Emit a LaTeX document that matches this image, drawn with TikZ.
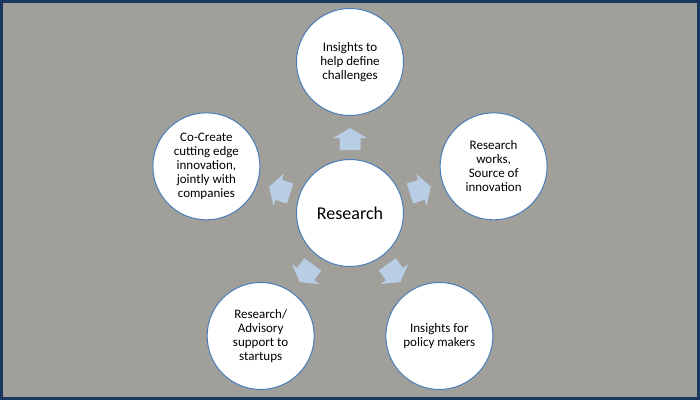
\documentclass[tikz,border=0pt]{standalone}
\usepackage{fontspec}
\setmainfont{Carlito}
\usetikzlibrary{calc}
\definecolor{fondo}{HTML}{A19F9A}
\definecolor{marco}{HTML}{17375E}
\definecolor{borde}{HTML}{4A7EBB}
\definecolor{relleno}{HTML}{B9CDE5}
\tikzstyle{idea}=[
	circle,
	draw=borde,
	fill=white,
	line width=1,
	minimum size=107,
	inner sep=0,
	align=center,
	font=\fontsize{13}{14}\selectfont]
\tikzstyle{nucleo}=[
	idea,
	font=\fontsize{18}{20}\selectfont]
\tikzset{flechabloque/.pic={
	\fill[relleno] (-11,-10.5) -- (1,-10.5) -- (1,-17) -- (11,0) -- (1,17) -- (1,10.5) -- (-11,10.5) -- cycle;}}

\begin{document}
\begin{tikzpicture}[x=1pt,y=1pt]
	\fill[fondo] (0,0) rectangle (700,400);
	\draw[marco,line width=3] (1.5,1.5) rectangle (698.5,398.5);
	\node[nucleo]	(res)	at (350,187)	{Research};
	\node[idea]	(ins)	at ($(res)+(90:151)$)	{Insights to\\help define\\challenges};
	\node[idea]	(fue)	at ($(res)+(18:151)$)	{Research\\works,\\Source of\\innovation};
	\node[idea]	(pol)	at ($(res)+(-54:152)$)	{Insights for\\policy makers};
	\node[idea]	(ase)	at ($(res)+(-126:152)$)	{Research/\\Advisory\\support to\\startups};
	\node[idea]	(co)	at ($(res)+(162:151)$)	{Co-Create\\cutting edge\\innovation,\\jointly with\\companies};
	\foreach \n/\a in {ins/90,fue/18,pol/-54,ase/-126,co/162}
		\path ($(res)!.49!(\n)$) pic[rotate=\a] {flechabloque};
\end{tikzpicture}
\end{document}
